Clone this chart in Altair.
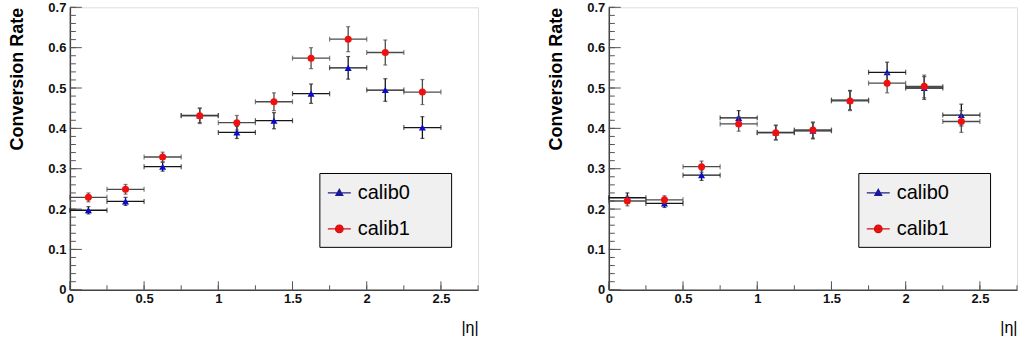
import altair as alt
import numpy as np
import pandas as pd

# ---------------- data ----------------
eta_centers = [0.125, 0.375, 0.625, 0.875, 1.125, 1.375, 1.625, 1.875, 2.125, 2.375]
bin_half_width = 0.125
series_names = ["calib0", "calib1"]

left_calib0 = [0.197, 0.219, 0.305, 0.432, 0.390, 0.419, 0.486, 0.550, 0.495, 0.402]
left_calib0_err = [0.009, 0.010, 0.011, 0.018, 0.015, 0.020, 0.024, 0.028, 0.028, 0.027]
left_calib1 = [0.229, 0.249, 0.329, 0.431, 0.414, 0.466, 0.574, 0.621, 0.588, 0.490]
left_calib1_err = [0.011, 0.012, 0.012, 0.019, 0.018, 0.022, 0.026, 0.031, 0.031, 0.031]

right_calib0 = [0.228, 0.214, 0.284, 0.426, 0.390, 0.394, 0.470, 0.539, 0.500, 0.433]
right_calib0_err = [0.012, 0.010, 0.013, 0.018, 0.018, 0.020, 0.024, 0.025, 0.028, 0.027]
right_calib1 = [0.220, 0.223, 0.305, 0.411, 0.389, 0.396, 0.468, 0.512, 0.504, 0.417]
right_calib1_err = [0.012, 0.010, 0.014, 0.018, 0.018, 0.020, 0.024, 0.024, 0.028, 0.027]

x_tick_labels = [0, 0.5, 1, 1.5, 2, 2.5]
y_tick_labels = [0, 0.1, 0.2, 0.3, 0.4, 0.5, 0.6, 0.7]

# ---------------- layout / style ----------------
W, H = 409, 283
FONT = "Liberation Sans"
X_DOMAIN = [0, 2.75]
Y_DOMAIN = [0, 0.7]

styles = {
    "calib0": dict(shape="triangle-up", color="#0a0ad0", bar="#151515"),
    "calib1": dict(shape="circle", color="#f01010", bar="#4a4a4a"),
}
tri_path = "M-1,0L1,0M0,-0.32L0.3,0.22L-0.3,0.22Z"
circ_path = "M-1,0L1,0M0.33,0A0.33,0.33 0 1,1 -0.33,0A0.33,0.33 0 1,1 0.33,0Z"

xscale = alt.Scale(domain=X_DOMAIN, nice=False, zero=False)
yscale = alt.Scale(domain=Y_DOMAIN, nice=False, zero=False)

xaxis = alt.Axis(
    title="|η|", titleFont=FONT, titleFontSize=16, titleFontWeight="normal",
    titleColor="black", titleX=W, titleY=43, titleAlign="right",
    titleBaseline="alphabetic",
    values=x_tick_labels, format=".2~f", labelFont=FONT, labelFontWeight="bold",
    labelFontSize=13, labelColor="#111", labelPadding=3, labelFlush=False,
    labelOverlap=False, ticks=False, tickSize=0, grid=False,
    domainColor="#444", domainWidth=1.5,
)
yaxis = alt.Axis(
    title="Conversion Rate", titleFont=FONT, titleFontSize=18, titleFontWeight="bold",
    titleColor="black", titleAngle=270, titleX=-47, titleY=0, titleAlign="right",
    titleBaseline="alphabetic",
    values=y_tick_labels, format=".1~f", labelFont=FONT, labelFontWeight="bold",
    labelFontSize=13, labelColor="#111", labelPadding=4, labelOverlap=False,
    ticks=False, tickSize=0, grid=False, domainColor="#444", domainWidth=1.5,
)


def X(field):
    return alt.X(f"{field}:Q", scale=xscale, axis=xaxis)


def Y(field):
    return alt.Y(f"{field}:Q", scale=yscale, axis=yaxis)


# inner (ROOT style) tick positions
y_major = pd.DataFrame({"t": np.round(np.arange(0, 0.7001, 0.1), 3)})
y_minor = pd.DataFrame({"t": np.round(np.arange(0, 0.7001, 0.02), 3)})
x_major = pd.DataFrame({"t": np.round(np.arange(0, 2.5001, 0.5), 3)})
x_minor = pd.DataFrame({"t": np.round(np.arange(0, 2.7501, 0.25), 3)})

# legend box is wider than its text: pad the label with non-trimmed blank space
LABEL_PAD = "\u00a0" * 6 + "\u200b"


def panel(c0, e0, c1, e1):
    rows = []
    for name, vals, errs in (("calib0", c0, e0), ("calib1", c1, e1)):
        for eta, v, e in zip(eta_centers, vals, errs):
            rows.append(dict(series=name, eta=eta, lo=eta - bin_half_width,
                             hi=eta + bin_half_width, val=v, vlo=v - e, vhi=v + e))
    df = pd.DataFrame(rows)

    layers = [
        alt.Chart(y_minor).mark_rule(color="#555", strokeWidth=1).encode(
            y=Y("t"), x=alt.value(0), x2=alt.value(6)),
        alt.Chart(y_major).mark_rule(color="#555", strokeWidth=1).encode(
            y=Y("t"), x=alt.value(0), x2=alt.value(12)),
        alt.Chart(x_minor).mark_rule(color="#555", strokeWidth=1).encode(
            x=X("t"), y=alt.value(H), y2=alt.value(H - 4.5)),
        alt.Chart(x_major).mark_rule(color="#555", strokeWidth=1).encode(
            x=X("t"), y=alt.value(H), y2=alt.value(H - 8.5)),
    ]
    for name in series_names:
        st = styles[name]
        base = alt.Chart(df).transform_filter(alt.datum.series == name)
        layers += [
            base.mark_rule(color=st["bar"], strokeWidth=1.3).encode(
                x=X("lo"), x2="hi", y=Y("val")),
            base.mark_tick(orient="vertical", size=5, thickness=1.2, color=st["bar"]).encode(
                x=X("lo"), y=Y("val")),
            base.mark_tick(orient="vertical", size=5, thickness=1.2, color=st["bar"]).encode(
                x=X("hi"), y=Y("val")),
            base.mark_rule(color=st["bar"], strokeWidth=1.3).encode(
                x=X("eta"), y=Y("vlo"), y2="vhi"),
            base.mark_tick(orient="horizontal", size=4, thickness=1.2, color=st["bar"]).encode(
                x=X("eta"), y=Y("vlo")),
            base.mark_tick(orient="horizontal", size=4, thickness=1.2, color=st["bar"]).encode(
                x=X("eta"), y=Y("vhi")),
            base.mark_point(shape=st["shape"], filled=True, size=50, opacity=1,
                            color=st["color"]).encode(x=X("eta"), y=Y("val")),
        ]

    leg = alt.Legend(
        title=None, orient="none", legendX=250, legendY=166,
        fillColor="#f0f0f0", strokeColor="black", padding=7.5, rowPadding=13,
        labelFont=FONT, labelFontSize=20, labelColor="black", labelOffset=6,
        symbolSize=529, symbolStrokeWidth=1.2, symbolOpacity=1,
        labelExpr="datum.label + '" + LABEL_PAD + "'",
    )
    legend_layer = alt.Chart(df).transform_filter("false").mark_point(
        filled=True, strokeWidth=1.2).encode(
        x=X("eta"), y=Y("val"),
        shape=alt.Shape("series:N", scale=alt.Scale(domain=series_names,
                        range=[tri_path, circ_path]), legend=leg),
        fill=alt.Fill("series:N", scale=alt.Scale(domain=series_names,
                      range=[styles["calib0"]["color"], styles["calib1"]["color"]]), legend=leg),
        stroke=alt.Stroke("series:N", scale=alt.Scale(domain=series_names,
                          range=["#20208a", "#d01010"]), legend=leg),
    )
    layers.append(legend_layer)
    return alt.layer(*layers).properties(width=W, height=H)


left = panel(left_calib0, left_calib0_err, left_calib1, left_calib1_err)
right = panel(right_calib0, right_calib0_err, right_calib1, right_calib1_err)

chart = alt.hconcat(left, right, spacing=68).resolve_scale(
    shape="independent", fill="independent", stroke="independent"
).resolve_legend(
    shape="independent", fill="independent", stroke="independent"
).properties(
    padding={"left": 8, "top": 0, "right": 0, "bottom": 0},
    background="white",
).configure_view(
    stroke="#555", strokeWidth=1
).configure(font=FONT)

chart.save("out.html", embed_options={"renderer": "svg", "actions": False})
